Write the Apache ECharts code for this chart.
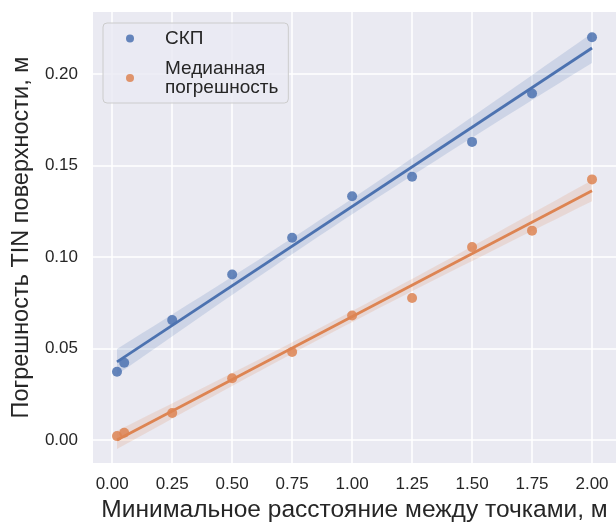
<!DOCTYPE html>
<html>
<head>
<meta charset="utf-8">
<script src="https://cdn.jsdelivr.net/npm/echarts@6/dist/echarts.min.js"></script>
<style>
  html, body { margin: 0; padding: 0; background: #fff; }
  #chart { width: 616px; height: 528px; }
</style>
</head>
<body>
<div id="chart"></div>
<script>
// min distance between points (m)
const distances = [0.02, 0.05, 0.25, 0.5, 0.75, 1.0, 1.25, 1.5, 1.75, 2.0]
// СКП
const rmse = [0.0374, 0.0423, 0.0656, 0.0905, 0.1106, 0.1333, 0.1440, 0.1630, 0.1895, 0.2202]
// median error
const medianErr = [0.0022, 0.0040, 0.0148, 0.0338, 0.0482, 0.0681, 0.0777, 0.1055, 0.1145, 0.1425]
const xTicks = [0, 0.25, 0.5, 0.75, 1.0, 1.25, 1.5, 1.75, 2.0]
const yTicks = [0, 0.05, 0.1, 0.15, 0.2]
const seriesNames = ['СКП', 'Медианная погрешность']
const colors = ['#4C72B0', '#DD8452']

const FONT = '"Liberation Sans", Arial, sans-serif'
const TEXT = '#262626'

// linear fit + 95% band, like seaborn regplot
function fit(xs, ys) {
  const n = xs.length
  const mx = xs.reduce((s, v) => s + v, 0) / n
  const my = ys.reduce((s, v) => s + v, 0) / n
  let sxx = 0, sxy = 0
  xs.forEach((x, i) => { sxx += (x - mx) ** 2; sxy += (x - mx) * (ys[i] - my) })
  const b = sxy / sxx
  const a = my - b * mx
  let sse = 0
  xs.forEach((x, i) => { sse += (ys[i] - a - b * x) ** 2 })
  const s = Math.sqrt(sse / (n - 2))
  const t = 2.306
  const x0 = Math.min(...xs), x1 = Math.max(...xs)
  const band = []
  for (let i = 0; i <= 40; i++) {
    const x = x0 + (x1 - x0) * i / 40
    const yh = a + b * x
    const se = s * Math.sqrt(1 / n + (x - mx) ** 2 / sxx)
    band.push([x, yh - t * se, yh + t * se])
  }
  return { line: [[x0, a + b * x0], [x1, a + b * x1]], band }
}

const fits = [fit(distances, rmse), fit(distances, medianErr)]
const values = [rmse, medianErr]

function bandSeries(f, color) {
  return {
    type: 'custom',
    silent: true,
    z: 1,
    data: [f.line[0]],
    renderItem: (params, api) => {
      const upper = f.band.map(p => api.coord([p[0], p[2]]))
      const lower = f.band.map(p => api.coord([p[0], p[1]])).reverse()
      return {
        type: 'polygon',
        shape: { points: upper.concat(lower) },
        style: { fill: color, opacity: 0.18 }
      }
    }
  }
}

const series = []
seriesNames.forEach((name, i) => {
  series.push(bandSeries(fits[i], colors[i]))
  series.push({
    name,
    type: 'scatter',
    z: 2,
    symbolSize: 10,
    itemStyle: { color: colors[i], opacity: 0.85 },
    data: distances.map((x, j) => [x, values[i][j]])
  })
  series.push({
    type: 'line',
    z: 3,
    silent: true,
    showSymbol: false,
    lineStyle: { color: colors[i], width: 2.8 },
    data: fits[i].line
  })
})

const chart = echarts.init(document.getElementById('chart'))
chart.setOption({
  animation: false,
  textStyle: { fontFamily: FONT },
  grid: {
    left: 93, right: -5, top: 12, bottom: 61,
    show: true, backgroundColor: '#EAEAF2', borderWidth: 0
  },
  legend: {
    data: seriesNames,
    orient: 'vertical',
    left: 103, top: 23,
    padding: [6, 10, 6, 23],
    itemWidth: 8, itemHeight: 8, itemGap: 11,
    icon: 'circle',
    backgroundColor: 'rgba(234,234,242,0.8)',
    borderColor: '#cccccc', borderWidth: 1, borderRadius: 4,
    formatter: name => name.replace(' ', '\n'),
    textStyle: { fontSize: 19, lineHeight: 19, color: TEXT, fontFamily: FONT, padding: [0, 0, 0, 26] }
  },
  xAxis: {
    type: 'value',
    min: -0.08, max: 2.1,
    name: 'Минимальное расстояние между точками, м',
    nameLocation: 'middle',
    nameGap: 35,
    nameTextStyle: { fontSize: 24.5, color: TEXT, fontFamily: FONT },
    axisLine: { show: false },
    axisTick: { show: false, customValues: xTicks },
    axisLabel: { customValues: xTicks, margin: 13, fontSize: 17, color: TEXT, formatter: v => v.toFixed(2) },
    splitLine: { show: true, lineStyle: { color: '#ffffff', width: 1.5 } }
  },
  yAxis: {
    type: 'value',
    min: -0.0125, max: 0.234,
    name: 'Погрешность TIN поверхности, м',
    nameLocation: 'middle',
    nameGap: 55,
    nameTextStyle: { fontSize: 23.5, color: TEXT, fontFamily: FONT },
    axisLine: { show: false },
    axisTick: { show: false, customValues: yTicks },
    axisLabel: { customValues: yTicks, margin: 15, fontSize: 17, color: TEXT, formatter: v => v.toFixed(2) },
    splitLine: { show: true, lineStyle: { color: '#ffffff', width: 1.5 } }
  },
  series
})
</script>
</body>
</html>
